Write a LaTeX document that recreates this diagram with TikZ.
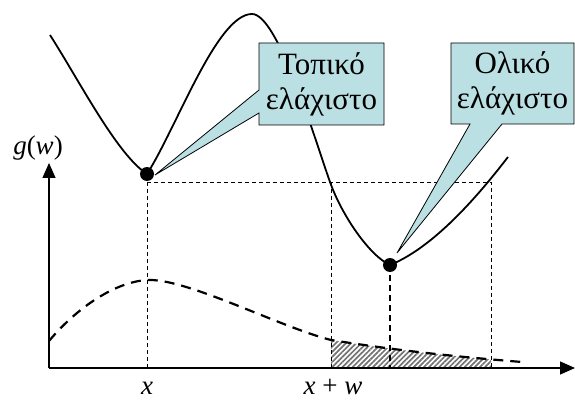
\documentclass[tikz,border=0pt]{standalone}
\usepackage{fontspec}
\setmainfont{Liberation Serif}
\usetikzlibrary{arrows.meta,patterns.meta}
\definecolor{paleteal}{RGB}{187,224,227}

\begin{document}
\begin{tikzpicture}[x=10pt,y=10pt,
  axis/.style={line width=1.4pt,-{Triangle[length=15pt,width=13pt]}},
  guide/.style={line width=0.8pt,dash pattern=on 4pt off 3pt},
  dot/.style={circle,fill,inner sep=0pt,minimum size=14pt},
  balloon/.style={fill=paleteal,draw,line width=0.8pt,line join=miter},
  lbl/.style={font=\fontsize{27}{31}\selectfont},
  boxtext/.style={font=\fontsize{31}{35}\selectfont,align=center}]
  \useasboundingbox (0,0) rectangle (57.5,39.9);
  \coordinate (O) at (4.9,3.1);
  \coordinate (lmin) at (14.7,22.5);
  \coordinate (gmin) at (39.0,13.4);

  % shaded tail between x+w and the right guide
  \begin{scope}
    \clip (33.1,3.1) rectangle (49.1,12);
    \fill[pattern={Lines[angle=45,distance=3.6pt,line width=1.7pt]},pattern color=black!55]
      (33.1,3.1) -- (33.1,5.9) .. controls (40,4.8) and (46,4.2) .. (52.2,3.7) -- (52.2,3.1) -- cycle;
  \end{scope}

  % guide lines
  \draw[guide] (14.7,21.7) -- (49.1,21.7) -- (49.1,3.1);
  \draw[guide] (14.7,21.7) -- (14.7,3.1);
  \draw[guide] (33.1,21.7) -- (33.1,3.1);
  \draw[guide,line width=1.1pt,dash pattern=on 6pt off 4pt] (gmin) -- (gmin |- O);

  % g(w), dashed
  \draw[line width=2.2pt,dash pattern=on 10pt off 7pt]
    (4.9,5.8) .. controls (8,9.5) and (12,11.9) .. (15,11.9)
    .. controls (19,11.9) and (28,7.2) .. (33.1,5.9)
    .. controls (40,4.8) and (46,4.2) .. (52.2,3.7);

  % axes
  \draw[axis] (O) -- (4.9,23.6);
  \draw[axis] (O) -- (57.5,3.1);

  % the cost curve
  \draw[line width=1.8pt]
    (5.0,36.4) .. controls (8,31.7) and (11.7,24.45) .. (lmin)
    .. controls (17.7,27.2) and (21.7,38.5) .. (25.2,38.5)
    .. controls (27.8,38.5) and (31.5,25.9) .. (33.0,21.7)
    .. controls (34.2,18.3) and (37,14.3) .. (gmin)
    .. controls (44,15.4) and (49,21.9) .. (50.8,24.2);

  % callouts
  \draw[balloon] (25.9,35.6) -- (38.4,35.6) -- (38.4,27.4) -- (25.9,27.4)
    -- (25.9,28.6) -- (15.5,22.4) -- (25.9,30.9) -- cycle;
  \node[boxtext] (local) at (32.15,31.5) {Τοπικό\\ελάχιστο};
  \draw[balloon] (45.1,35.6) -- (57.4,35.6) -- (57.4,27.5) -- (50.2,27.5)
    -- (39.7,14.6) -- (47.0,27.5) -- (45.1,27.5) -- cycle;
  \node[boxtext] (global) at (51.25,31.55) {Ολικό\\ελάχιστο};

  \node[dot] (ldot) at (lmin) {};
  \node[dot] (gdot) at (gmin) {};

  % labels
  \node[lbl] (gw) at (3.8,25.1) {\textit{g}(\textit{w})};
  \node[lbl,anchor=base,inner sep=0pt] (xlab) at (14.7,0.5) {\textit{x}};
  \node[lbl,anchor=base,inner sep=0pt] (xwlab) at (33.3,0.5) {\textit{x} + \textit{w}};
\end{tikzpicture}
\end{document}
